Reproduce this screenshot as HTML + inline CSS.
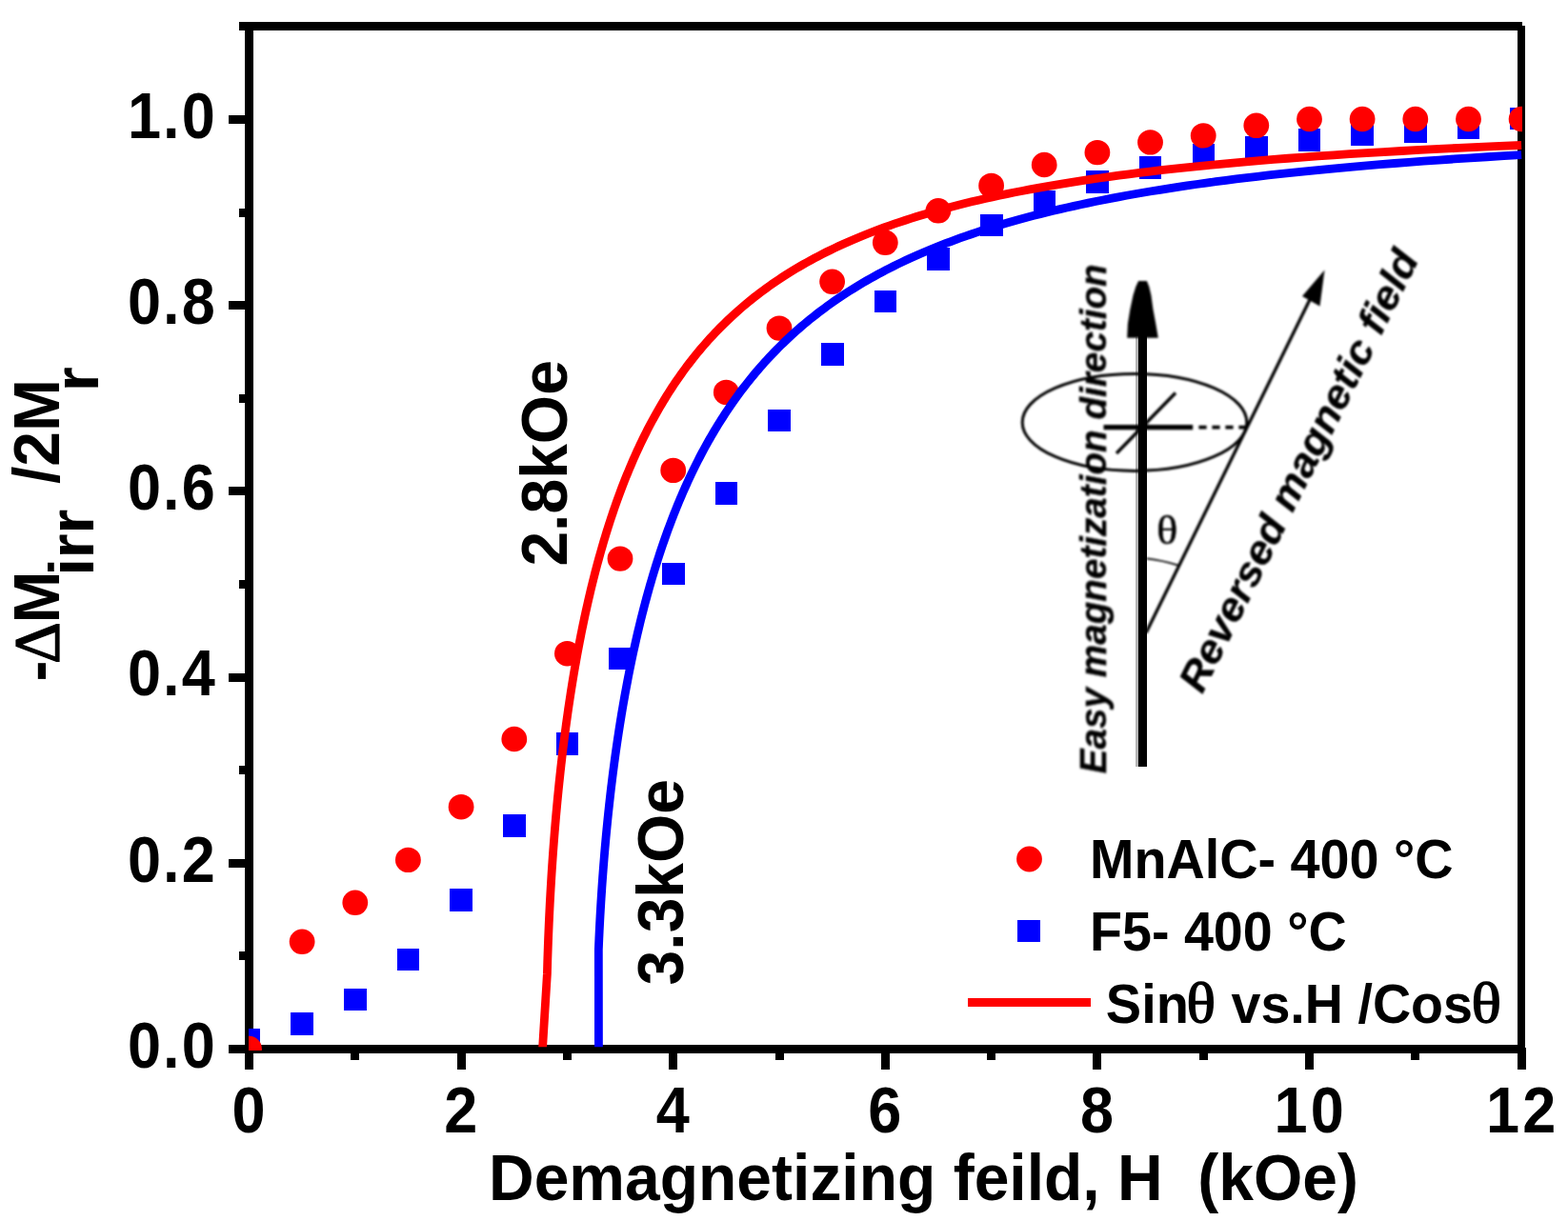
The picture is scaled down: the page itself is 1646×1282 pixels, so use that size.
<!DOCTYPE html>
<html lang="en"><head><meta charset="utf-8"><title>Demagnetization curves</title>
<style>html,body{margin:0;padding:0;background:#fff}body{width:1646px;height:1282px;overflow:hidden}svg{display:block}text{white-space:pre;font-family:"Liberation Sans",sans-serif;font-weight:bold;fill:#000}.ser{font-family:"Liberation Serif",serif;font-weight:normal}.bi{font-style:italic;font-weight:bold}</style>
</head><body>
<svg width="1646" height="1282" viewBox="0 0 1646 1282">
<defs><clipPath id="plot"><rect x="261" y="28" width="1337" height="1071.3"/></clipPath><clipPath id="plotm"><rect x="261" y="28" width="1337" height="1075"/></clipPath>
<filter id="soft" x="-5%" y="-5%" width="110%" height="110%"><feGaussianBlur stdDeviation="0.8"/></filter></defs>
<rect width="1646" height="1282" fill="#fff"/>
<g fill="#000" shape-rendering="crispEdges">
<rect x="251" y="23" width="1347" height="9"/>
<rect x="257" y="23" width="9" height="1100"/>
<rect x="240" y="1097" width="1361" height="9"/>
<rect x="1593" y="27" width="8" height="1096"/>
<rect x="240" y="1097" width="18" height="9"/>
<rect x="251" y="999" width="7" height="9"/>
<rect x="240" y="902" width="18" height="9"/>
<rect x="251" y="804" width="7" height="9"/>
<rect x="240" y="707" width="18" height="9"/>
<rect x="251" y="609" width="7" height="9"/>
<rect x="240" y="511" width="18" height="9"/>
<rect x="251" y="414" width="7" height="9"/>
<rect x="240" y="316" width="18" height="9"/>
<rect x="251" y="219" width="7" height="9"/>
<rect x="240" y="121" width="18" height="9"/>
<rect x="257" y="1100" width="9" height="23"/>
<rect x="368" y="1100" width="9" height="13"/>
<rect x="480" y="1100" width="9" height="23"/>
<rect x="591" y="1100" width="9" height="13"/>
<rect x="702" y="1100" width="9" height="23"/>
<rect x="814" y="1100" width="9" height="13"/>
<rect x="925" y="1100" width="9" height="23"/>
<rect x="1036" y="1100" width="9" height="13"/>
<rect x="1147" y="1100" width="9" height="23"/>
<rect x="1259" y="1100" width="9" height="13"/>
<rect x="1370" y="1100" width="9" height="23"/>
<rect x="1481" y="1100" width="9" height="13"/>
<rect x="1593" y="1100" width="9" height="23"/>
</g>
<g clip-path="url(#plotm)">
<g fill="#0000ff" shape-rendering="crispEdges">
<rect x="248.9" y="1079.9" width="23.6" height="23.6"/>
<rect x="305.4" y="1063.1" width="23.6" height="23.6"/>
<rect x="361.1" y="1037.8" width="23.6" height="23.6"/>
<rect x="416.8" y="995.8" width="23.6" height="23.6"/>
<rect x="472.4" y="933.3" width="23.6" height="23.6"/>
<rect x="528.0" y="855.3" width="23.6" height="23.6"/>
<rect x="583.7" y="769.4" width="23.6" height="23.6"/>
<rect x="639.3" y="679.6" width="23.6" height="23.6"/>
<rect x="695.0" y="590.8" width="23.6" height="23.6"/>
<rect x="750.6" y="505.9" width="23.6" height="23.6"/>
<rect x="806.3" y="429.7" width="23.6" height="23.6"/>
<rect x="861.9" y="360.4" width="23.6" height="23.6"/>
<rect x="917.6" y="304.8" width="23.6" height="23.6"/>
<rect x="973.2" y="259.9" width="23.6" height="23.6"/>
<rect x="1028.9" y="224.8" width="23.6" height="23.6"/>
<rect x="1084.5" y="199.9" width="23.6" height="23.6"/>
<rect x="1140.2" y="178.9" width="23.6" height="23.6"/>
<rect x="1195.8" y="164.1" width="23.6" height="23.6"/>
<rect x="1251.5" y="150.6" width="23.6" height="23.6"/>
<rect x="1307.1" y="142.8" width="23.6" height="23.6"/>
<rect x="1362.8" y="135.0" width="23.6" height="23.6"/>
<rect x="1418.4" y="129.1" width="23.6" height="23.6"/>
<rect x="1474.1" y="126.3" width="23.6" height="23.6"/>
<rect x="1529.8" y="122.5" width="23.6" height="23.6"/>
<rect x="1585.4" y="112.5" width="23.6" height="23.6"/>
</g>
<g fill="#ff0000">
<ellipse cx="261.5" cy="1101.0" rx="13.4" ry="13.2"/>
<ellipse cx="317.1" cy="988.8" rx="13.4" ry="13.2"/>
<ellipse cx="372.8" cy="947.8" rx="13.4" ry="13.2"/>
<ellipse cx="428.4" cy="902.9" rx="13.4" ry="13.2"/>
<ellipse cx="484.1" cy="847.2" rx="13.4" ry="13.2"/>
<ellipse cx="539.8" cy="776.0" rx="13.4" ry="13.2"/>
<ellipse cx="595.4" cy="686.2" rx="13.4" ry="13.2"/>
<ellipse cx="651.0" cy="586.6" rx="13.4" ry="13.2"/>
<ellipse cx="706.7" cy="493.9" rx="13.4" ry="13.2"/>
<ellipse cx="762.3" cy="411.9" rx="13.4" ry="13.2"/>
<ellipse cx="818.0" cy="344.6" rx="13.4" ry="13.2"/>
<ellipse cx="873.6" cy="295.8" rx="13.4" ry="13.2"/>
<ellipse cx="929.3" cy="254.8" rx="13.4" ry="13.2"/>
<ellipse cx="984.9" cy="221.3" rx="13.4" ry="13.2"/>
<ellipse cx="1040.6" cy="194.9" rx="13.4" ry="13.2"/>
<ellipse cx="1096.2" cy="173.0" rx="13.4" ry="13.2"/>
<ellipse cx="1151.9" cy="160.1" rx="13.4" ry="13.2"/>
<ellipse cx="1207.5" cy="149.4" rx="13.4" ry="13.2"/>
<ellipse cx="1263.2" cy="142.4" rx="13.4" ry="13.2"/>
<ellipse cx="1318.8" cy="131.8" rx="13.4" ry="13.2"/>
<ellipse cx="1374.5" cy="125.0" rx="13.4" ry="13.2"/>
<ellipse cx="1430.1" cy="125.0" rx="13.4" ry="13.2"/>
<ellipse cx="1485.8" cy="125.0" rx="13.4" ry="13.2"/>
<ellipse cx="1541.5" cy="125.0" rx="13.4" ry="13.2"/>
<ellipse cx="1597.1" cy="125.0" rx="13.4" ry="13.2"/>
</g>
</g>
<g clip-path="url(#plot)">
<path d="M628.46 1111.26 L628.34 997.07 L628.50 993.23 L628.66 989.39 L628.83 985.56 L629.01 981.72 L629.19 977.89 L629.38 974.06 L629.57 970.23 L629.77 966.41 L629.98 962.59 L630.19 958.76 L630.41 954.95 L630.64 951.13 L630.87 947.31 L631.11 943.50 L631.35 939.69 L631.60 935.89 L631.85 932.08 L632.11 928.28 L632.38 924.48 L632.66 920.68 L632.94 916.89 L633.22 913.10 L633.51 909.31 L633.81 905.53 L634.12 901.75 L634.43 897.97 L634.75 894.19 L635.07 890.42 L635.40 886.65 L635.74 882.89 L636.08 879.13 L636.43 875.37 L636.79 871.61 L637.15 867.86 L637.52 864.11 L637.90 860.37 L638.28 856.63 L638.67 852.89 L639.07 849.16 L639.47 845.43 L639.88 841.71 L640.30 837.99 L640.72 834.27 L641.15 830.56 L641.59 826.85 L642.03 823.15 L642.49 819.45 L642.94 815.75 L643.41 812.06 L643.88 808.38 L644.36 804.70 L644.85 801.02 L645.34 797.35 L645.85 793.68 L646.35 790.02 L646.87 786.36 L647.40 782.71 L647.93 779.06 L648.47 775.42 L649.01 771.78 L649.57 768.15 L650.13 764.52 L650.70 760.90 L651.28 757.29 L651.86 753.68 L652.45 750.07 L653.05 746.47 L653.66 742.88 L654.28 739.29 L654.91 735.70 L655.54 732.13 L656.18 728.56 L656.83 724.99 L657.49 721.43 L658.16 717.88 L658.83 714.33 L659.51 710.79 L660.21 707.25 L660.91 703.72 L661.62 700.20 L662.34 696.68 L663.06 693.17 L663.80 689.67 L664.54 686.17 L665.30 682.68 L666.06 679.19 L666.84 675.71 L667.62 672.24 L668.41 668.78 L669.21 665.32 L670.02 661.87 L670.84 658.42 L671.67 654.99 L672.51 651.56 L673.36 648.13 L674.22 644.72 L675.09 641.31 L675.97 637.91 L676.86 634.51 L677.76 631.12 L678.67 627.74 L679.59 624.37 L680.53 621.01 L681.47 617.65 L682.42 614.30 L683.39 610.96 L684.37 607.62 L685.35 604.30 L686.35 600.98 L687.36 597.67 L688.38 594.36 L689.42 591.07 L690.46 587.78 L691.52 584.50 L692.59 581.23 L693.67 577.96 L694.76 574.71 L695.86 571.46 L696.98 568.22 L698.11 564.99 L699.26 561.77 L700.41 558.56 L701.58 555.35 L702.76 552.16 L703.96 548.97 L705.17 545.79 L706.39 542.62 L707.63 539.46 L708.88 536.31 L710.14 533.16 L711.42 530.03 L712.71 526.90 L714.02 523.79 L715.34 520.68 L716.68 517.58 L718.03 514.49 L719.40 511.41 L720.78 508.34 L722.18 505.28 L723.60 502.22 L725.03 499.18 L726.47 496.15 L727.94 493.12 L729.42 490.11 L730.91 487.10 L732.42 484.11 L733.96 481.12 L735.50 478.14 L737.07 475.18 L738.65 472.22 L740.25 469.27 L741.87 466.34 L743.51 463.41 L745.17 460.49 L746.85 457.58 L748.54 454.69 L750.26 451.80 L751.99 448.92 L753.75 446.06 L755.52 443.20 L757.32 440.36 L759.14 437.52 L760.97 434.69 L762.83 431.88 L764.71 429.08 L766.62 426.28 L768.54 423.50 L770.49 420.73 L772.47 417.96 L774.46 415.21 L776.48 412.47 L778.52 409.74 L780.59 407.02 L782.68 404.32 L784.80 401.62 L786.94 398.93 L789.11 396.26 L791.31 393.59 L793.53 390.94 L795.78 388.30 L798.06 385.67 L800.36 383.05 L802.69 380.44 L805.06 377.84 L807.45 375.26 L809.87 372.69 L812.32 370.12 L814.80 367.57 L817.31 365.03 L819.86 362.50 L822.44 359.99 L825.04 357.48 L827.69 354.99 L830.36 352.51 L833.08 350.04 L835.82 347.58 L838.60 345.13 L841.42 342.70 L844.28 340.27 L847.17 337.86 L850.10 335.46 L853.07 333.08 L856.08 330.70 L859.13 328.34 L862.22 325.99 L865.35 323.65 L868.52 321.32 L871.74 319.01 L875.00 316.71 L878.31 314.42 L881.66 312.14 L885.06 309.88 L888.50 307.62 L891.99 305.38 L895.54 303.15 L899.13 300.94 L902.77 298.74 L906.47 296.55 L910.22 294.37 L914.02 292.20 L917.88 290.05 L921.79 287.91 L925.76 285.79 L929.79 283.67 L933.88 281.57 L938.03 279.48 L942.25 277.41 L946.52 275.34 L950.86 273.30 L955.27 271.26 L959.75 269.23 L964.29 267.22 L968.91 265.23 L973.60 263.24 L978.36 261.27 L983.19 259.31 L988.11 257.37 L993.10 255.44 L998.18 253.52 L1003.33 251.61 L1008.57 249.72 L1013.90 247.84 L1019.32 245.98 L1024.82 244.12 L1030.42 242.29 L1036.12 240.46 L1041.91 238.65 L1047.80 236.85 L1053.79 235.07 L1059.89 233.30 L1066.10 231.54 L1072.41 229.79 L1078.84 228.06 L1085.38 226.35 L1092.05 224.65 L1098.83 222.96 L1105.74 221.28 L1112.78 219.62 L1119.95 217.97 L1127.25 216.34 L1134.70 214.72 L1142.29 213.11 L1150.02 211.52 L1157.91 209.94 L1165.95 208.38 L1174.15 206.83 L1182.52 205.29 L1191.05 203.77 L1199.76 202.26 L1208.65 200.77 L1217.73 199.29 L1226.99 197.82 L1236.45 196.37 L1246.12 194.93 L1255.99 193.51 L1266.08 192.10 L1276.40 190.70 L1286.94 189.32 L1297.72 187.96 L1308.75 186.60 L1320.03 185.27 L1331.57 183.94 L1343.39 182.63 L1355.49 181.34 L1367.87 180.06 L1380.56 178.79 L1393.56 177.54 L1406.89 176.31 L1420.55 175.08 L1434.56 173.88 L1448.93 172.68 L1463.68 171.50 L1478.81 170.34 L1494.36 169.19 L1510.32 168.05 L1526.72 166.93 L1543.58 165.83 L1560.92 164.74 L1578.75 163.66 L1597.10 162.60" fill="none" stroke="#0000ff" stroke-width="8.8" stroke-linejoin="round"/>
<path d="M568.91 1111.26 L574.39 1022.44 L574.50 1018.38 L574.61 1014.31 L574.73 1010.25 L574.86 1006.19 L574.99 1002.13 L575.13 998.07 L575.27 994.02 L575.42 989.96 L575.57 985.91 L575.73 981.86 L575.90 977.81 L576.07 973.77 L576.24 969.72 L576.43 965.68 L576.61 961.64 L576.81 957.61 L577.01 953.57 L577.21 949.54 L577.42 945.51 L577.64 941.49 L577.86 937.46 L578.09 933.44 L578.33 929.43 L578.57 925.41 L578.81 921.40 L579.06 917.39 L579.32 913.39 L579.59 909.39 L579.86 905.39 L580.13 901.39 L580.41 897.40 L580.70 893.41 L581.00 889.43 L581.30 885.45 L581.60 881.47 L581.92 877.50 L582.23 873.53 L582.56 869.57 L582.89 865.61 L583.23 861.65 L583.57 857.70 L583.92 853.75 L584.28 849.80 L584.64 845.86 L585.01 841.93 L585.39 838.00 L585.77 834.07 L586.16 830.15 L586.56 826.23 L586.96 822.32 L587.37 818.42 L587.79 814.51 L588.21 810.62 L588.64 806.73 L589.08 802.84 L589.52 798.96 L589.97 795.08 L590.43 791.21 L590.89 787.34 L591.36 783.48 L591.84 779.63 L592.33 775.78 L592.82 771.94 L593.32 768.10 L593.83 764.27 L594.35 760.44 L594.87 756.62 L595.40 752.81 L595.94 749.00 L596.48 745.20 L597.03 741.41 L597.60 737.62 L598.16 733.84 L598.74 730.06 L599.32 726.29 L599.92 722.53 L600.52 718.77 L601.12 715.02 L601.74 711.28 L602.36 707.54 L603.00 703.81 L603.64 700.09 L604.29 696.38 L604.95 692.67 L605.61 688.97 L606.29 685.27 L606.97 681.59 L607.66 677.91 L608.37 674.24 L609.08 670.57 L609.80 666.91 L610.52 663.26 L611.26 659.62 L612.01 655.99 L612.77 652.36 L613.53 648.75 L614.31 645.13 L615.09 641.53 L615.89 637.94 L616.69 634.35 L617.51 630.77 L618.33 627.20 L619.16 623.64 L620.01 620.09 L620.86 616.54 L621.73 613.01 L622.60 609.48 L623.49 605.96 L624.39 602.45 L625.30 598.95 L626.22 595.46 L627.15 591.97 L628.09 588.50 L629.04 585.03 L630.00 581.57 L630.98 578.13 L631.96 574.69 L632.96 571.26 L633.97 567.84 L635.00 564.43 L636.03 561.02 L637.08 557.63 L638.14 554.25 L639.21 550.87 L640.30 547.51 L641.40 544.16 L642.51 540.81 L643.63 537.48 L644.77 534.15 L645.92 530.84 L647.09 527.53 L648.26 524.24 L649.46 520.95 L650.66 517.68 L651.89 514.42 L653.12 511.16 L654.37 507.92 L655.64 504.68 L656.92 501.46 L658.22 498.25 L659.53 495.05 L660.85 491.86 L662.20 488.68 L663.56 485.51 L664.93 482.35 L666.32 479.20 L667.73 476.06 L669.16 472.93 L670.60 469.82 L672.06 466.71 L673.54 463.62 L675.04 460.54 L676.55 457.47 L678.09 454.41 L679.64 451.36 L681.21 448.32 L682.80 445.30 L684.41 442.28 L686.04 439.28 L687.69 436.29 L689.36 433.31 L691.05 430.34 L692.76 427.38 L694.49 424.44 L696.24 421.51 L698.02 418.59 L699.82 415.68 L701.64 412.78 L703.48 409.90 L705.35 407.02 L707.24 404.16 L709.15 401.31 L711.09 398.48 L713.06 395.65 L715.05 392.84 L717.06 390.04 L719.10 387.26 L721.17 384.48 L723.26 381.72 L725.39 378.97 L727.54 376.24 L729.71 373.51 L731.92 370.80 L734.15 368.10 L736.42 365.42 L738.71 362.75 L741.04 360.09 L743.40 357.44 L745.79 354.80 L748.21 352.18 L750.66 349.58 L753.15 346.98 L755.67 344.40 L758.23 341.83 L760.82 339.28 L763.45 336.74 L766.11 334.21 L768.81 331.69 L771.55 329.19 L774.33 326.70 L777.15 324.23 L780.01 321.77 L782.91 319.32 L785.85 316.89 L788.84 314.47 L791.86 312.06 L794.93 309.67 L798.05 307.29 L801.21 304.93 L804.43 302.58 L807.68 300.24 L810.99 297.92 L814.35 295.61 L817.76 293.32 L821.22 291.04 L824.73 288.77 L828.30 286.52 L831.92 284.28 L835.60 282.06 L839.34 279.85 L843.14 277.65 L847.00 275.47 L850.92 273.31 L854.90 271.16 L858.95 269.02 L863.06 266.90 L867.24 264.79 L871.50 262.70 L875.82 260.62 L880.21 258.55 L884.68 256.51 L889.23 254.47 L893.85 252.45 L898.55 250.45 L903.34 248.46 L908.20 246.48 L913.16 244.52 L918.20 242.58 L923.33 240.65 L928.56 238.73 L933.88 236.83 L939.30 234.95 L944.81 233.08 L950.43 231.22 L956.16 229.38 L961.99 227.56 L967.94 225.75 L974.00 223.96 L980.18 222.18 L986.48 220.42 L992.90 218.67 L999.45 216.94 L1006.13 215.22 L1012.95 213.52 L1019.90 211.84 L1027.00 210.17 L1034.25 208.51 L1041.65 206.87 L1049.21 205.25 L1056.93 203.64 L1064.81 202.05 L1072.87 200.48 L1081.11 198.91 L1089.53 197.37 L1098.14 195.84 L1106.94 194.33 L1115.95 192.83 L1125.16 191.35 L1134.60 189.89 L1144.25 188.44 L1154.14 187.00 L1164.27 185.59 L1174.65 184.18 L1185.28 182.80 L1196.19 181.43 L1207.36 180.08 L1218.83 178.74 L1230.60 177.42 L1242.67 176.11 L1255.07 174.82 L1267.80 173.55 L1280.88 172.30 L1294.33 171.06 L1308.15 169.83 L1322.37 168.62 L1336.99 167.43 L1352.05 166.26 L1367.55 165.10 L1383.52 163.96 L1399.98 162.83 L1416.94 161.72 L1434.45 160.63 L1452.51 159.55 L1471.15 158.49 L1490.42 157.45 L1510.32 156.42 L1530.91 155.41 L1552.21 154.42 L1574.26 153.44 L1597.10 152.48" fill="none" stroke="#ff0000" stroke-width="8.8" stroke-linejoin="round"/>
</g>
<text transform="translate(225.7 1120.8) scale(0.955 1.035)" font-size="66" text-anchor="end" textLength="96.07" lengthAdjust="spacing" xml:space="preserve">0.0</text>
<text transform="translate(225.7 925.6) scale(0.955 1.035)" font-size="66" text-anchor="end" textLength="96.07" lengthAdjust="spacing" xml:space="preserve">0.2</text>
<text transform="translate(225.7 730.4) scale(0.955 1.035)" font-size="66" text-anchor="end" textLength="96.07" lengthAdjust="spacing" xml:space="preserve">0.4</text>
<text transform="translate(225.7 535.2) scale(0.955 1.035)" font-size="66" text-anchor="end" textLength="96.07" lengthAdjust="spacing" xml:space="preserve">0.6</text>
<text transform="translate(225.7 340.0) scale(0.955 1.035)" font-size="66" text-anchor="end" textLength="96.07" lengthAdjust="spacing" xml:space="preserve">0.8</text>
<text transform="translate(225.7 144.8) scale(0.955 1.035)" font-size="66" text-anchor="end" textLength="96.07" lengthAdjust="spacing" xml:space="preserve">1.0</text>
<text transform="translate(261.1 1188.9) scale(0.955 1.035)" font-size="66" text-anchor="middle" textLength="38.44" lengthAdjust="spacing" xml:space="preserve">0</text>
<text transform="translate(483.7 1188.9) scale(0.955 1.035)" font-size="66" text-anchor="middle" textLength="38.44" lengthAdjust="spacing" xml:space="preserve">2</text>
<text transform="translate(706.3 1188.9) scale(0.955 1.035)" font-size="66" text-anchor="middle" textLength="38.44" lengthAdjust="spacing" xml:space="preserve">4</text>
<text transform="translate(928.9 1188.9) scale(0.955 1.035)" font-size="66" text-anchor="middle" textLength="38.44" lengthAdjust="spacing" xml:space="preserve">6</text>
<text transform="translate(1151.5 1188.9) scale(0.955 1.035)" font-size="66" text-anchor="middle" textLength="38.44" lengthAdjust="spacing" xml:space="preserve">8</text>
<text transform="translate(1374.1 1188.9) scale(0.955 1.035)" font-size="66" text-anchor="middle" textLength="76.87" lengthAdjust="spacing" xml:space="preserve">10</text>
<text transform="translate(1596.7 1188.9) scale(0.955 1.035)" font-size="66" text-anchor="middle" textLength="76.87" lengthAdjust="spacing" xml:space="preserve">12</text>
<text transform="translate(969.5 1259.5) scale(1 1.035)" font-size="66" text-anchor="middle" xml:space="preserve">Demagnetizing feild, H  (kOe)</text>
<text transform="rotate(-90) scale(1 1.035)" font-size="66" xml:space="preserve"><tspan x="-715.60" y="60.19">-</tspan><tspan class="ser" font-size="66.18" stroke="#000" stroke-width="1.2" textLength="44.05" lengthAdjust="spacingAndGlyphs" x="-697.00" y="59.32">Δ</tspan><tspan x="-654.60" y="60.19">M</tspan><tspan font-size="63.77" textLength="69.71" lengthAdjust="spacingAndGlyphs" x="-604.60" y="94.49">irr</tspan><tspan x="-526.45" y="60.19"> /2M</tspan><tspan font-size="63.77" textLength="25.68" lengthAdjust="spacingAndGlyphs" x="-411.00" y="99.23">r</tspan></text>
<text transform="translate(594.6 594.6) rotate(-90) scale(1 1.035)" font-size="66" xml:space="preserve">2.8kOe</text>
<text transform="translate(716.7 1034.4) rotate(-90) scale(1 1.035)" font-size="66" xml:space="preserve">3.3kOe</text>
<circle cx="1080.5" cy="902" r="13.4" fill="#ff0000"/>
<rect x="1068" y="966" width="24" height="23" fill="#0000ff" shape-rendering="crispEdges"/>
<rect x="1016" y="1048" width="129" height="9" fill="#ff0000" shape-rendering="crispEdges"/>
<text transform="translate(1144.0 922.0) scale(1 1.035)" font-size="56" textLength="381.5" lengthAdjust="spacingAndGlyphs" xml:space="preserve">MnAlC- 400 °C</text>
<text transform="translate(1144.0 998.0) scale(1 1.035)" font-size="56" textLength="269.6" lengthAdjust="spacingAndGlyphs" xml:space="preserve">F5- 400 °C</text>
<text transform="translate(0 1073.5) scale(1 1.035)" font-size="56" xml:space="preserve"><tspan x="1160.8">Sin</tspan><tspan class="ser" font-size="57.00" stroke="#000" stroke-width="1.3" textLength="30.5" lengthAdjust="spacingAndGlyphs" x="1245.6" dy="-0.30">θ</tspan><tspan x="1277.0" dy="0.3" textLength="269" lengthAdjust="spacingAndGlyphs"> vs.H /Cos</tspan><tspan class="ser" font-size="57.00" stroke="#000" stroke-width="1.3" textLength="31.5" lengthAdjust="spacingAndGlyphs" x="1544.6" dy="-0.30">θ</tspan></text>
<g shape-rendering="crispEdges"><rect x="1192.3" y="354" width="3" height="451" fill="#b4b4b4"/><rect x="1195.1" y="350" width="8.8" height="455.3" fill="#000"/></g>
<g filter="url(#soft)">
<g stroke="#000" fill="none">
<path d="M1195.1 295 L1203.9 295 L1206.3 301 L1208.4 310 L1210.5 325 L1213.3 340 L1215.8 354.7 L1183.2 354.7 L1183.9 340 L1186.3 325 L1189.5 310 L1192.3 301 Z" fill="#000" stroke="none"/>
<line x1="1203" y1="664.5" x2="1376" y2="312.5" stroke-width="3.3"/>
<path d="M1390.5 283.5 L1385.5 321.5 L1367 311 Z" fill="#000" stroke="none"/>
<ellipse cx="1191" cy="443.4" rx="117.8" ry="51" stroke-width="3"/>
<line x1="1158.5" y1="448.6" x2="1252.2" y2="448.6" stroke-width="5.2"/>
<line x1="1258.4" y1="448.6" x2="1310" y2="448.6" stroke-width="3.8" stroke-dasharray="8.2 5.8"/>
<line x1="1172" y1="476" x2="1234" y2="412.5" stroke-width="3.4"/>
<path d="M1203.5 586.4 Q1221 588.5 1237 593.7" stroke-width="1.8"/>
</g>
<text transform="translate(1214.3 571.3)" font-size="43" class="ser" textLength="22" lengthAdjust="spacingAndGlyphs" stroke="#000" stroke-width="0.5" xml:space="preserve">θ</text>
<text transform="translate(1161.0 812.3) rotate(-90)" font-size="38.3" class="bi" stroke="#000" stroke-width="0.3" lengthAdjust="spacingAndGlyphs" textLength="535" xml:space="preserve">Easy magnetization direction</text>
<text transform="translate(1262.0 729.5) rotate(-63.5)" font-size="42.4" class="bi" stroke="#000" stroke-width="0.3" lengthAdjust="spacingAndGlyphs" textLength="511.5" xml:space="preserve">Reversed magnetic field</text>
</g>
</svg></body></html>
